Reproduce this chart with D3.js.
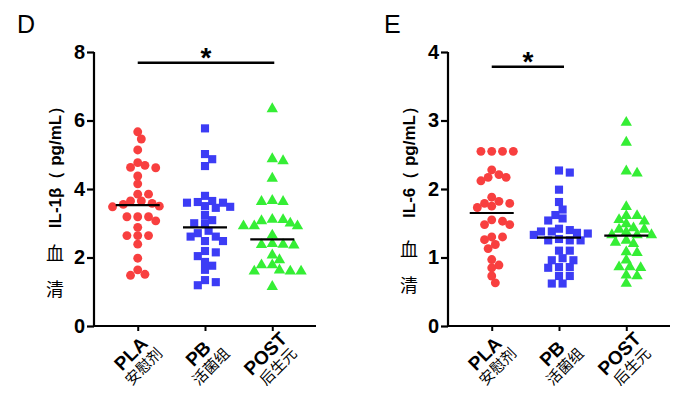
<!DOCTYPE html>
<html><head><meta charset="utf-8">
<script src="https://cdn.jsdelivr.net/npm/d3@7/dist/d3.min.js"></script>
<style>body{margin:0;background:#fff}svg{display:block}</style>
</head><body><svg id="c" width="694" height="396"></svg>
<script>
const groups = ["PLA","PB","POST"];
const groupCn = ["安慰剂","活菌组","后生元"];
const colors = ["#F83F3F","#3C3CF5","#35EE35"];

const dPLA = [5.67,5.46,5.14,4.77,4.69,4.63,4.62,4.38,4.15,3.85,3.85,3.65,3.65,3.58,3.55,3.50,3.48,3.19,3.19,3.19,3.07,2.88,2.64,2.64,2.64,2.39,1.98,1.64,1.51,1.48];
const dPB = [5.77,5.02,4.87,4.67,3.80,3.62,3.60,3.60,3.65,3.50,3.45,3.48,3.24,3.09,3.00,3.00,2.78,2.71,2.61,2.61,2.48,2.48,2.19,2.15,2.04,1.87,1.76,1.64,1.34,1.28,1.19];
const dPOST = [6.34,4.88,4.82,4.31,3.66,3.63,3.63,3.11,3.10,3.07,3.00,2.92,2.92,2.92,2.65,2.38,2.36,2.40,2.37,2.07,1.93,1.78,1.78,1.63,1.60,1.60,1.60,1.15];
const dLines = [3.53,2.88,2.53];

const ePLA = [2.55,2.55,2.55,2.55,2.28,2.12,2.17,2.17,2.21,1.88,1.79,1.79,1.82,1.73,1.75,1.53,1.48,1.48,1.55,1.30,1.30,1.19,1.26,1.13,0.97,0.85,0.89,0.73,0.63];
const ePB = [2.24,2.27,1.99,1.81,1.70,1.62,1.54,1.57,1.40,1.38,1.42,1.38,1.35,1.33,1.36,1.25,1.25,1.25,1.27,1.10,1.10,0.96,0.96,0.99,0.86,0.85,0.86,0.73,0.73,0.62,0.62];
const ePOST = [2.97,2.68,2.26,2.23,1.74,1.61,1.61,1.49,1.53,1.55,1.41,1.43,1.41,1.37,1.33,1.33,1.33,1.25,1.20,1.22,1.07,1.08,0.96,0.86,0.85,0.86,0.74,0.73,0.62];
const eLines = [1.65,1.29,1.32];

const dTicks = [0,2,4,6,8];
const eTicks = [0,1,2,3,4];

const svg = d3.select("#c");

function panel(opt){
  const g = svg.append("g");
  const y = d3.scaleLinear().domain([0, opt.ymax]).range([326, 52]);
  const x = d3.scalePoint().domain(groups).range([opt.x0, opt.x0 + 222]).padding(0.65);

  g.append("text").attr("x", opt.letterX).attr("y", 33).attr("font-family","Liberation Sans, Arial").attr("font-size",25).text(opt.letter);

  const ya = g.append("g").attr("transform",`translate(${opt.x0},0)`)
    .call(d3.axisLeft(y).tickValues(opt.ticks).tickSize(7).tickPadding(2).tickFormat(d3.format("d")));
  ya.select(".domain").attr("stroke","#000").attr("stroke-width",2.2).attr("d",`M0,${y(opt.ymax)}V${y(0)}`);
  ya.selectAll(".tick line").attr("stroke","#000").attr("stroke-width",2.2);
  ya.selectAll(".tick text").attr("font-family","Liberation Sans, Arial").attr("font-weight","bold").attr("font-size",20).attr("fill","#000");

  const xa = g.append("g").attr("transform",`translate(0,326)`)
    .call(d3.axisBottom(x).tickSize(5).tickFormat(""));
  xa.select(".domain").attr("stroke","#000").attr("stroke-width",2.2).attr("d",`M${opt.x0},0H${opt.x0+222}`);
  xa.selectAll(".tick line").attr("stroke","#000").attr("stroke-width",2);

  // two-line category labels, rotated -45°
  groups.forEach((gname,i)=>{
    const lg = g.append("g").attr("transform",`translate(${x(gname)+14},342) rotate(-45)`);
    lg.append("text").attr("x",-23).attr("y",0).attr("text-anchor","middle")
      .attr("font-family","Liberation Sans, Arial").attr("font-weight","bold").attr("font-size",19).text(gname);
    lg.append("text").attr("x",-23).attr("y",17).attr("text-anchor","middle")
      .attr("font-family","Noto Sans CJK SC").attr("font-size",15).text(groupCn[i]);
  });

  const tx = opt.x0 - 39;
  g.append("text").attr("transform",`translate(${tx},${opt.titleY}) rotate(-90)`)
    .attr("text-anchor","middle").attr("dominant-baseline","central")
    .attr("font-family","Liberation Sans, Arial").attr("font-weight","bold").attr("font-size",17).text(opt.title);
  g.append("text").attr("x",tx).attr("y",opt.cnY).attr("text-anchor","middle").attr("dominant-baseline","central")
    .attr("font-family","Noto Sans CJK SC").attr("font-size",18).text("血");
  g.append("text").attr("x",tx).attr("y",opt.cnY+36).attr("text-anchor","middle").attr("dominant-baseline","central")
    .attr("font-family","Noto Sans CJK SC").attr("font-size",18).text("清");

  const D = 7.6, step = 3.6;
  opt.series.forEach((vals,i)=>{
    const cx = x(groups[i]);
    const sorted = vals.map(v=>({v, py:y(v)})).sort((a,b)=>b.v-a.v);
    const placed = [];
    sorted.forEach(p=>{
      for(let k=0;k<80;k++){
        const off = (k===0?0:(k%2===1?1:-1)*Math.ceil(k/2)*step);
        const ok = placed.every(q=>Math.hypot(q.off-off, q.py-p.py) >= D);
        if(ok){ p.off = off; placed.push(p); break; }
      }
    });
    const pg = g.append("g").attr("fill",colors[i]);
    const sym = [d3.symbolCircle, d3.symbolSquare, d3.symbolTriangle][i];
    const size = [62, 66, 56][i];
    pg.selectAll("path").data(placed).join("path")
      .attr("d", d3.symbol().type(sym).size(size))
      .attr("transform", d=>`translate(${cx+d.off},${d.py})`);
    g.append("line").attr("x1",cx-22).attr("x2",cx+22).attr("y1",y(opt.lines[i])).attr("y2",y(opt.lines[i]))
      .attr("stroke","#000").attr("stroke-width",2.2);
  });

  const [a,b] = opt.sig;
  g.append("line").attr("x1",x(groups[a])+opt.sigDx[0]).attr("x2",x(groups[b])+opt.sigDx[1])
    .attr("y1",opt.sigY).attr("y2",opt.sigY).attr("stroke","#000").attr("stroke-width",2.4);
  g.append("text").attr("x",(x(groups[a])+opt.sigDx[0]+x(groups[b])+opt.sigDx[1])/2).attr("y",opt.sigY+4)
    .attr("text-anchor","middle").attr("font-family","Liberation Sans, Arial").attr("font-weight","bold").attr("font-size",28).text("*");
}

panel({x0:94, ymax:8, ticks:dTicks, letter:"D", letterX:17, title:"IL-1β（ pg/mL）", titleY:163, cnY:252,
  series:[dPLA,dPB,dPOST], lines:dLines, sig:[0,2], sigDx:[0,2], sigY:62.7});
panel({x0:448, ymax:4, ticks:eTicks, letter:"E", letterX:384, title:"IL-6（ pg/mL）", titleY:158, cnY:248,
  series:[ePLA,ePB,ePOST], lines:eLines, sig:[0,1], sigDx:[0,5], sigY:66.7});
</script></body></html>
